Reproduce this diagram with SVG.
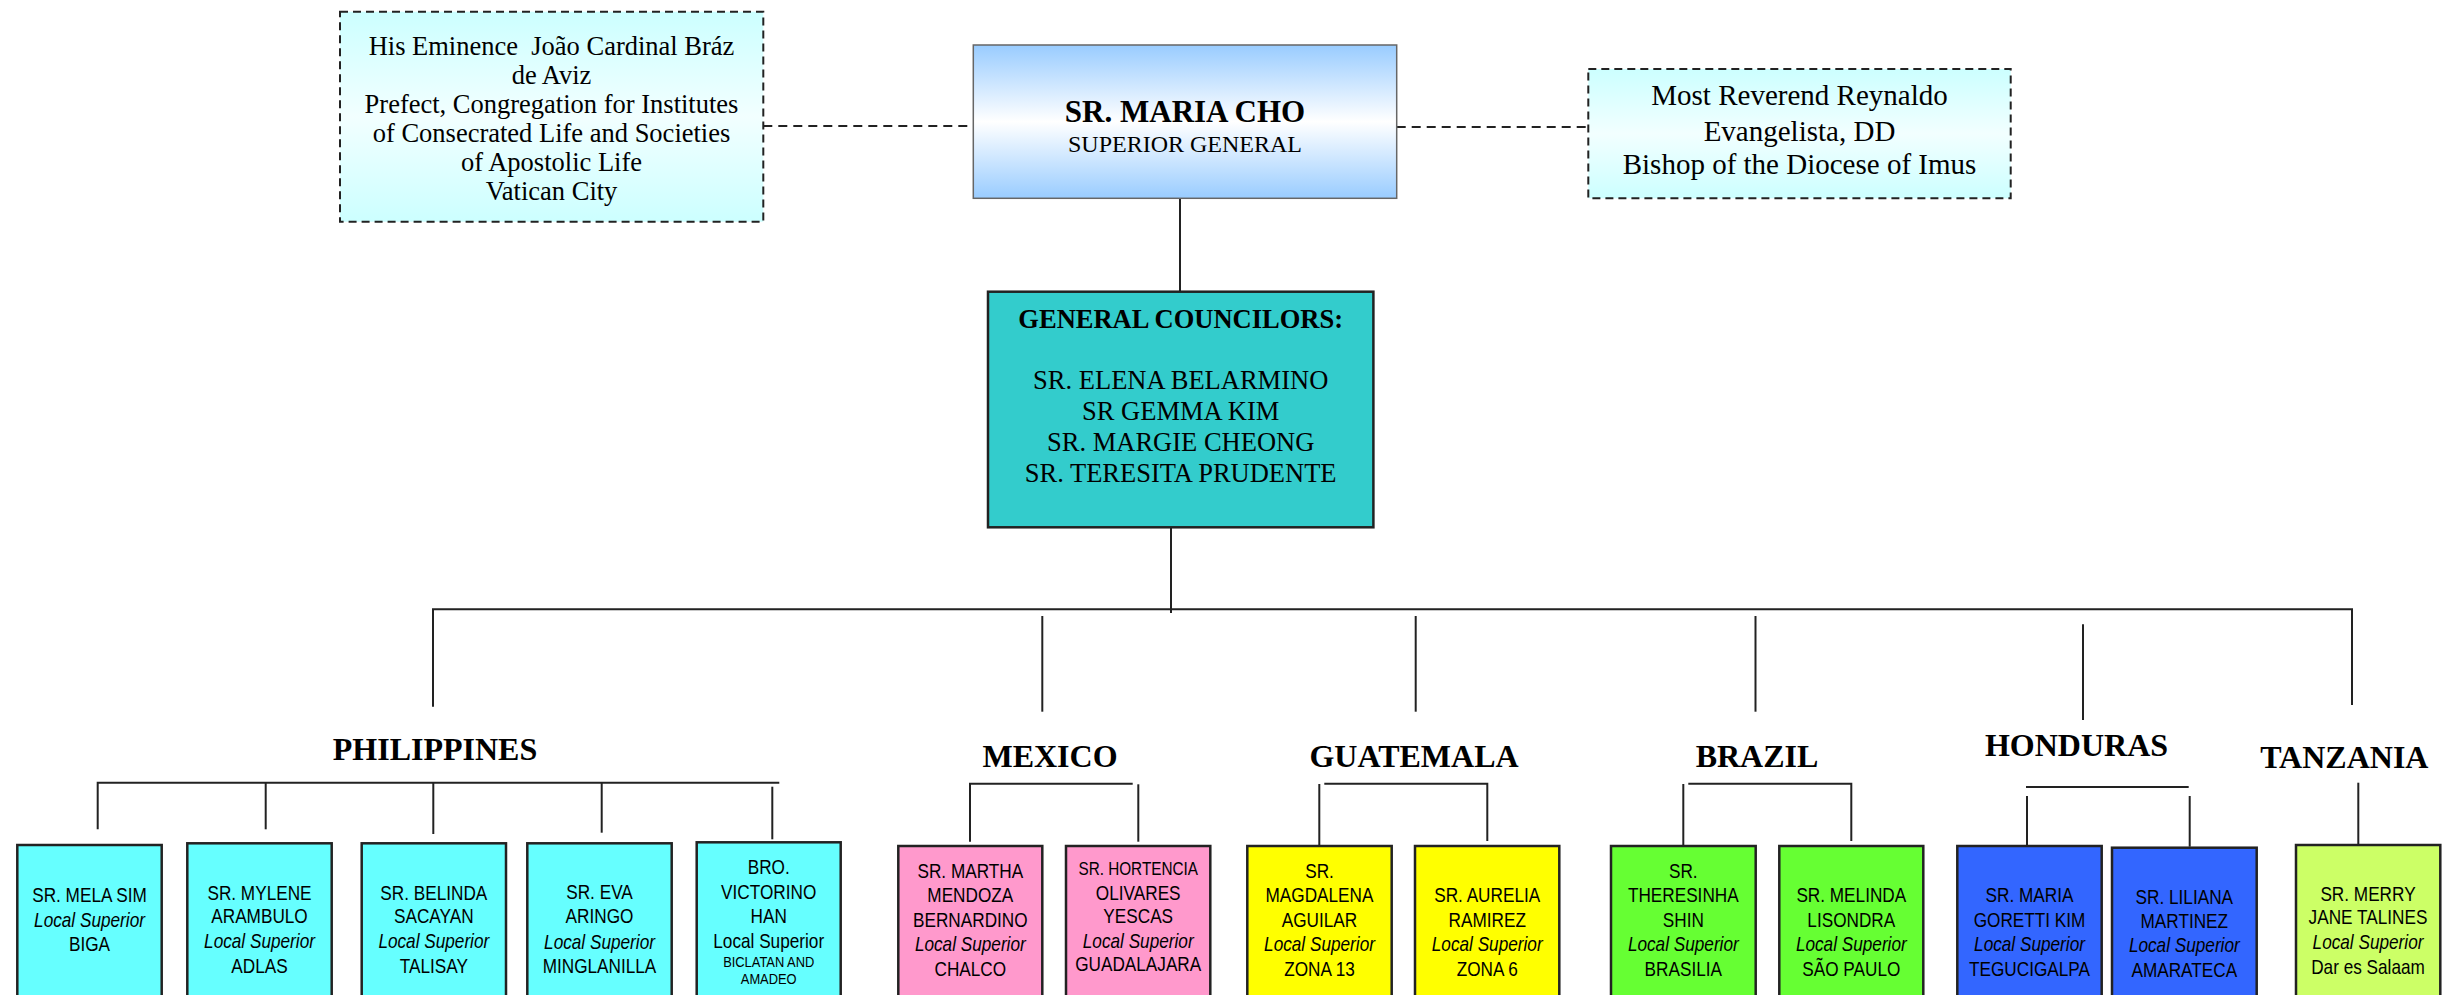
<svg xmlns="http://www.w3.org/2000/svg" width="2456" height="995" viewBox="0 0 2456 995">
<defs>
<linearGradient id="gSG" x1="0" y1="0" x2="0" y2="1">
<stop offset="0" stop-color="#99ccff"/><stop offset="0.5" stop-color="#ffffff"/><stop offset="1" stop-color="#99ccff"/>
</linearGradient>
<linearGradient id="gCy" x1="0" y1="0" x2="0" y2="1">
<stop offset="0" stop-color="#ccffff"/><stop offset="0.5" stop-color="#f2ffff"/><stop offset="1" stop-color="#ccffff"/>
</linearGradient>
</defs>
<style>
.serif{font-family:"Liberation Serif","Times New Roman",serif;fill:#000;text-anchor:middle}
.b{font-weight:bold}
.hdr{font-family:"Liberation Serif","Times New Roman",serif;font-weight:bold;font-size:32px;text-anchor:middle;fill:#000}
.ar{font-family:"Liberation Sans",Arial,sans-serif;font-size:20px;text-anchor:middle;fill:#000}
.it{font-style:italic}
.sm{font-size:15px}
.ln{stroke:#222;stroke-width:2;fill:none}
.dash{stroke:#222;stroke-width:2;stroke-dasharray:9 6;fill:none}
.dbox{stroke:#222;stroke-width:2;stroke-dasharray:8 5;fill:url(#gCy)}
.box{stroke:#222;stroke-width:2.5}
.ph{fill:#66ffff}.mx{fill:#ff99cc}.gt{fill:#ffff00}.br{fill:#66ff33}.hn{fill:#3366ff}.tz{fill:#ccff66}
</style>
<rect width="2456" height="995" fill="#ffffff"/>

<g id="connectors">
<path class="dash" d="M763.3 126 H973.3"/>
<path class="dash" d="M1396.7 127 H1588.3"/>
<path class="ln" d="M1180 198.3 V292"/>
<path class="ln" d="M1171 528 V613"/>
<path class="ln" d="M433 706.7 V609.3 H2352 V705"/>
<path class="ln" d="M1042.3 616 V711.7"/>
<path class="ln" d="M1415.7 616 V711.7"/>
<path class="ln" d="M1755.5 616 V711.7"/>
<path class="ln" d="M2083 624.3 V720"/>
<path class="ln" d="M97.7 829.3 V782.7 H779.3"/>
<path class="ln" d="M265.7 782.7 V829.3"/>
<path class="ln" d="M433.3 782.7 V834"/>
<path class="ln" d="M601.7 782.7 V832.7"/>
<path class="ln" d="M772.3 786.7 V839.3"/>
<path class="ln" d="M970 841.7 V783.7 H1132.7"/>
<path class="ln" d="M1138.3 784.3 V841.7"/>
<path class="ln" d="M1319.3 784 V846"/>
<path class="ln" d="M1324.3 783.7 H1487.3 V841"/>
<path class="ln" d="M1683.3 784 V846"/>
<path class="ln" d="M1688.3 783.7 H1851.3 V841"/>
<path class="ln" d="M2026 787 H2188.7"/>
<path class="ln" d="M2027 796 V846"/>
<path class="ln" d="M2189.7 796 V846.7"/>
<path class="ln" d="M2358.3 782.7 V845"/>
</g>

<g id="prefect">
<rect class="dbox" x="340" y="11.7" width="423.3" height="210"/>
<g class="serif" font-size="26.5">
<text x="551.5" y="55">His Eminence&#160; João Cardinal Bráz</text>
<text x="551.5" y="84">de Aviz</text>
<text x="551.5" y="113">Prefect, Congregation for Institutes</text>
<text x="551.5" y="142">of Consecrated Life and Societies</text>
<text x="551.5" y="171">of Apostolic Life</text>
<text x="551.5" y="200">Vatican City</text>
</g>
</g>

<g id="superior-general">
<rect x="973.3" y="45" width="423.4" height="153.3" fill="url(#gSG)" stroke="#666" stroke-width="1.5"/>
<text class="serif b" x="1185" y="121.7" font-size="31">SR. MARIA CHO</text>
<text class="serif" x="1185" y="151.7" font-size="24">SUPERIOR GENERAL</text>
</g>

<g id="bishop">
<rect class="dbox" x="1588.3" y="69" width="422.4" height="129.3"/>
<g class="serif" font-size="29">
<text x="1799.5" y="105">Most Reverend Reynaldo</text>
<text x="1799.5" y="140.5">Evangelista, DD</text>
<text x="1799.5" y="174">Bishop of the Diocese of Imus</text>
</g>
</g>

<g id="general-councilors">
<rect x="988" y="291.7" width="385.4" height="235.6" fill="#33cccc" stroke="#222" stroke-width="2.5"/>
<g class="serif" font-size="26.5">
<text class="b" x="1180.7" y="328.3">GENERAL COUNCILORS:</text>
<text x="1180.7" y="389.3">SR. ELENA BELARMINO</text>
<text x="1180.7" y="420">SR GEMMA KIM</text>
<text x="1180.7" y="451">SR. MARGIE CHEONG</text>
<text x="1180.7" y="481.7">SR. TERESITA PRUDENTE</text>
</g>
</g>

<g id="hdr-philippines"><text class="hdr" x="435" y="760">PHILIPPINES</text></g>
<g id="hdr-mexico"><text class="hdr" x="1050" y="767.3">MEXICO</text></g>
<g id="hdr-guatemala"><text class="hdr" x="1414" y="767.3">GUATEMALA</text></g>
<g id="hdr-brazil"><text class="hdr" x="1757" y="767.3">BRAZIL</text></g>
<g id="hdr-honduras"><text class="hdr" x="2076.5" y="756">HONDURAS</text></g>
<g id="hdr-tanzania"><text class="hdr" x="2344.3" y="768.3">TANZANIA</text></g>

<g id="ph-biga">
<rect class="box ph" x="17.3" y="845" width="144.4" height="170"/>
<g class="ar" transform="translate(89.5 0) scale(0.86 1)">
<text x="0" y="901.7">SR. MELA SIM</text>
<text class="it" x="0" y="926.7">Local Superior</text>
<text x="0" y="951">BIGA</text>
</g>
</g>
<g id="ph-adlas">
<rect class="box ph" x="187.3" y="843.3" width="144.4" height="170"/>
<g class="ar" transform="translate(259.5 0) scale(0.86 1)">
<text x="0" y="900">SR. MYLENE</text>
<text x="0" y="923.3">ARAMBULO</text>
<text class="it" x="0" y="948.3">Local Superior</text>
<text x="0" y="972.7">ADLAS</text>
</g>
</g>
<g id="ph-talisay">
<rect class="box ph" x="361.7" y="843.3" width="144.3" height="170"/>
<g class="ar" transform="translate(433.8 0) scale(0.86 1)">
<text x="0" y="900">SR. BELINDA</text>
<text x="0" y="923.3">SACAYAN</text>
<text class="it" x="0" y="948.3">Local Superior</text>
<text x="0" y="972.7">TALISAY</text>
</g>
</g>
<g id="ph-minglanilla">
<rect class="box ph" x="527.3" y="843.3" width="144.4" height="170"/>
<g class="ar" transform="translate(599.5 0) scale(0.86 1)">
<text x="0" y="899.3">SR. EVA</text>
<text x="0" y="923.3">ARINGO</text>
<text class="it" x="0" y="949">Local Superior</text>
<text x="0" y="972.7">MINGLANILLA</text>
</g>
</g>
<g id="ph-biclatan">
<rect class="box ph" x="696.7" y="842.3" width="144" height="170"/>
<g class="ar" transform="translate(768.7 0) scale(0.86 1)">
<text x="0" y="874">BRO.</text>
<text x="0" y="899">VICTORINO</text>
<text x="0" y="922.7">HAN</text>
<text x="0" y="947.7">Local Superior</text>
<text class="sm" x="0" y="966.7">BICLATAN AND</text>
<text class="sm" x="0" y="984.3">AMADEO</text>
</g>
</g>

<g id="mx-chalco">
<rect class="box mx" x="898.3" y="846" width="144" height="170"/>
<g class="ar" transform="translate(970.3 0) scale(0.86 1)">
<text x="0" y="877.7">SR. MARTHA</text>
<text x="0" y="901.7">MENDOZA</text>
<text x="0" y="926.7">BERNARDINO</text>
<text class="it" x="0" y="950.7">Local Superior</text>
<text x="0" y="975.7">CHALCO</text>
</g>
</g>
<g id="mx-guadalajara">
<rect class="box mx" x="1066" y="846" width="144.3" height="170"/>
<g class="ar" transform="translate(1138.2 0) scale(0.86 1)">
<text x="0" y="875" font-size="18" textLength="139" lengthAdjust="spacingAndGlyphs">SR. HORTENCIA</text>
<text x="0" y="900">OLIVARES</text>
<text x="0" y="922.7">YESCAS</text>
<text class="it" x="0" y="947.7">Local Superior</text>
<text x="0" y="971">GUADALAJARA</text>
</g>
</g>

<g id="gt-zona13">
<rect class="box gt" x="1247.3" y="846" width="144.4" height="170"/>
<g class="ar" transform="translate(1319.5 0) scale(0.86 1)">
<text x="0" y="877.7">SR.</text>
<text x="0" y="901.7">MAGDALENA</text>
<text x="0" y="926.7">AGUILAR</text>
<text class="it" x="0" y="950.7">Local Superior</text>
<text x="0" y="975.7">ZONA 13</text>
</g>
</g>
<g id="gt-zona6">
<rect class="box gt" x="1415" y="846" width="144.3" height="170"/>
<g class="ar" transform="translate(1487.2 0) scale(0.86 1)">
<text x="0" y="901.7">SR. AURELIA</text>
<text x="0" y="926.7">RAMIREZ</text>
<text class="it" x="0" y="950.7">Local Superior</text>
<text x="0" y="975.7">ZONA 6</text>
</g>
</g>

<g id="br-brasilia">
<rect class="box br" x="1611" y="846" width="144.7" height="170"/>
<g class="ar" transform="translate(1683.3 0) scale(0.86 1)">
<text x="0" y="877.7">SR.</text>
<text x="0" y="901.7">THERESINHA</text>
<text x="0" y="926.7">SHIN</text>
<text class="it" x="0" y="950.7">Local Superior</text>
<text x="0" y="975.7">BRASILIA</text>
</g>
</g>
<g id="br-saopaulo">
<rect class="box br" x="1779.3" y="846" width="144" height="170"/>
<g class="ar" transform="translate(1851.3 0) scale(0.86 1)">
<text x="0" y="901.7">SR. MELINDA</text>
<text x="0" y="926.7">LISONDRA</text>
<text class="it" x="0" y="950.7">Local Superior</text>
<text x="0" y="975.7">SÃO PAULO</text>
</g>
</g>

<g id="hn-tegucigalpa">
<rect class="box hn" x="1957.3" y="846" width="144.4" height="170"/>
<g class="ar" transform="translate(2029.5 0) scale(0.86 1)">
<text x="0" y="901.7">SR. MARIA</text>
<text x="0" y="926.7">GORETTI KIM</text>
<text class="it" x="0" y="950.7">Local Superior</text>
<text x="0" y="975.7">TEGUCIGALPA</text>
</g>
</g>
<g id="hn-amarateca">
<rect class="box hn" x="2112" y="847.7" width="144.7" height="170"/>
<g class="ar" transform="translate(2184.3 0) scale(0.86 1)">
<text x="0" y="904">SR. LILIANA</text>
<text x="0" y="928.3">MARTINEZ</text>
<text class="it" x="0" y="952.3">Local Superior</text>
<text x="0" y="976.7">AMARATECA</text>
</g>
</g>

<g id="tz-daressalaam">
<rect class="box tz" x="2296" y="845" width="144.3" height="170"/>
<g class="ar" transform="translate(2368 0) scale(0.86 1)">
<text x="0" y="901">SR. MERRY</text>
<text x="0" y="924.3">JANE TALINES</text>
<text class="it" x="0" y="949.3">Local Superior</text>
<text x="0" y="974.3">Dar es Salaam</text>
</g>
</g>
</svg>
